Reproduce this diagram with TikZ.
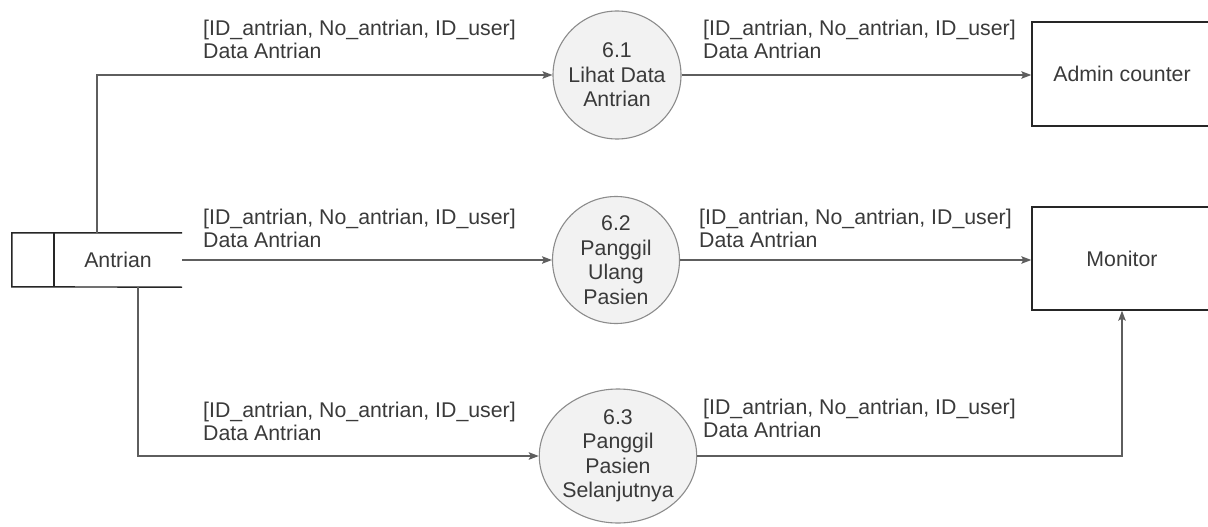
\documentclass[tikz,border=0pt]{standalone}
\usepackage{fontspec}
\setmainfont{Liberation Sans}
\usetikzlibrary{arrows.meta,shapes.geometric}
\definecolor{inkgray}{HTML}{3A3A3A}
\definecolor{linegray}{HTML}{5E5E5E}
\definecolor{boxblack}{HTML}{262626}
\definecolor{circgray}{HTML}{8C8C8C}
\definecolor{circfill}{HTML}{F2F2F2}
\begin{document}
\begin{tikzpicture}[x=1pt,y=-1pt,
  every node/.style={font=\fontsize{21.3}{23}\selectfont, text=inkgray},
  flow/.style={draw=linegray, line width=1.3pt, -{Stealth[length=10pt,width=7.5pt,inset=2pt]}},
  process/.style={circle, draw=circgray, fill=circfill, line width=1.1pt, align=center,
    inner sep=0pt, font=\fontsize{21.3}{24.5}\selectfont},
  entity/.style={rectangle, draw=boxblack, line width=1.4pt, minimum width=180pt},
  storeline/.style={draw=boxblack, line width=1.4pt},
  lbl/.style={anchor=south west, align=left, inner sep=0pt}]
\clip (0,0) rectangle (1208,527);
\fill[white] (0,0) rectangle (1208,527);

% data store
\node[minimum width=128pt, minimum height=54pt, inner sep=0pt] (store) at (118,260) {Antrian};
\draw[storeline] (store.north east) -- (store.north west) -- ++(-42,0) -- ++(0,54) -- (store.south east);
\draw[storeline] (store.north west) -- (store.south west);

% processes
\node[process, minimum size=128pt] (c1) at (617,75) {6.1\\Lihat Data\\Antrian};
\node[process, minimum size=127pt] (c2) at (616,260) {6.2\\Panggil\\Ulang\\Pasien};
\node[process, ellipse, minimum width=150pt, minimum height=134pt] (c3) at (618,456)
  {6.3\\Panggil\\Pasien\\Selanjutnya};

% external entities
\node[entity, minimum height=104pt] (admin) at (1122,74) {Admin counter};
\node[entity, minimum height=103pt] (monitor) at (1122,258.5) {Monitor};

% flows
\draw[flow] ([xshift=-21pt]store.north) |- (c1.west);
\draw[flow] (store.east) -- (store.east -| c2.west);
\draw[flow] ([xshift=20pt]store.south) |- (c3.west);
\draw[flow] (c1.east) -- (c1.east -| admin.west);
\draw[flow] (c2.east) -- (c2.east -| monitor.west);
\draw[flow] (c3.east) -| (monitor.south);

% flow labels
\node[lbl] (l1) at (203,59) {[ID\_antrian, No\_antrian, ID\_user]\\Data Antrian};
\node[lbl] (l2) at (703,59) {[ID\_antrian, No\_antrian, ID\_user]\\Data Antrian};
\node[lbl] (l3) at (203,248) {[ID\_antrian, No\_antrian, ID\_user]\\Data Antrian};
\node[lbl] (l4) at (699,248) {[ID\_antrian, No\_antrian, ID\_user]\\Data Antrian};
\node[lbl] (l5) at (203,441) {[ID\_antrian, No\_antrian, ID\_user]\\Data Antrian};
\node[lbl] (l6) at (703,438) {[ID\_antrian, No\_antrian, ID\_user]\\Data Antrian};
\end{tikzpicture}
\end{document}
